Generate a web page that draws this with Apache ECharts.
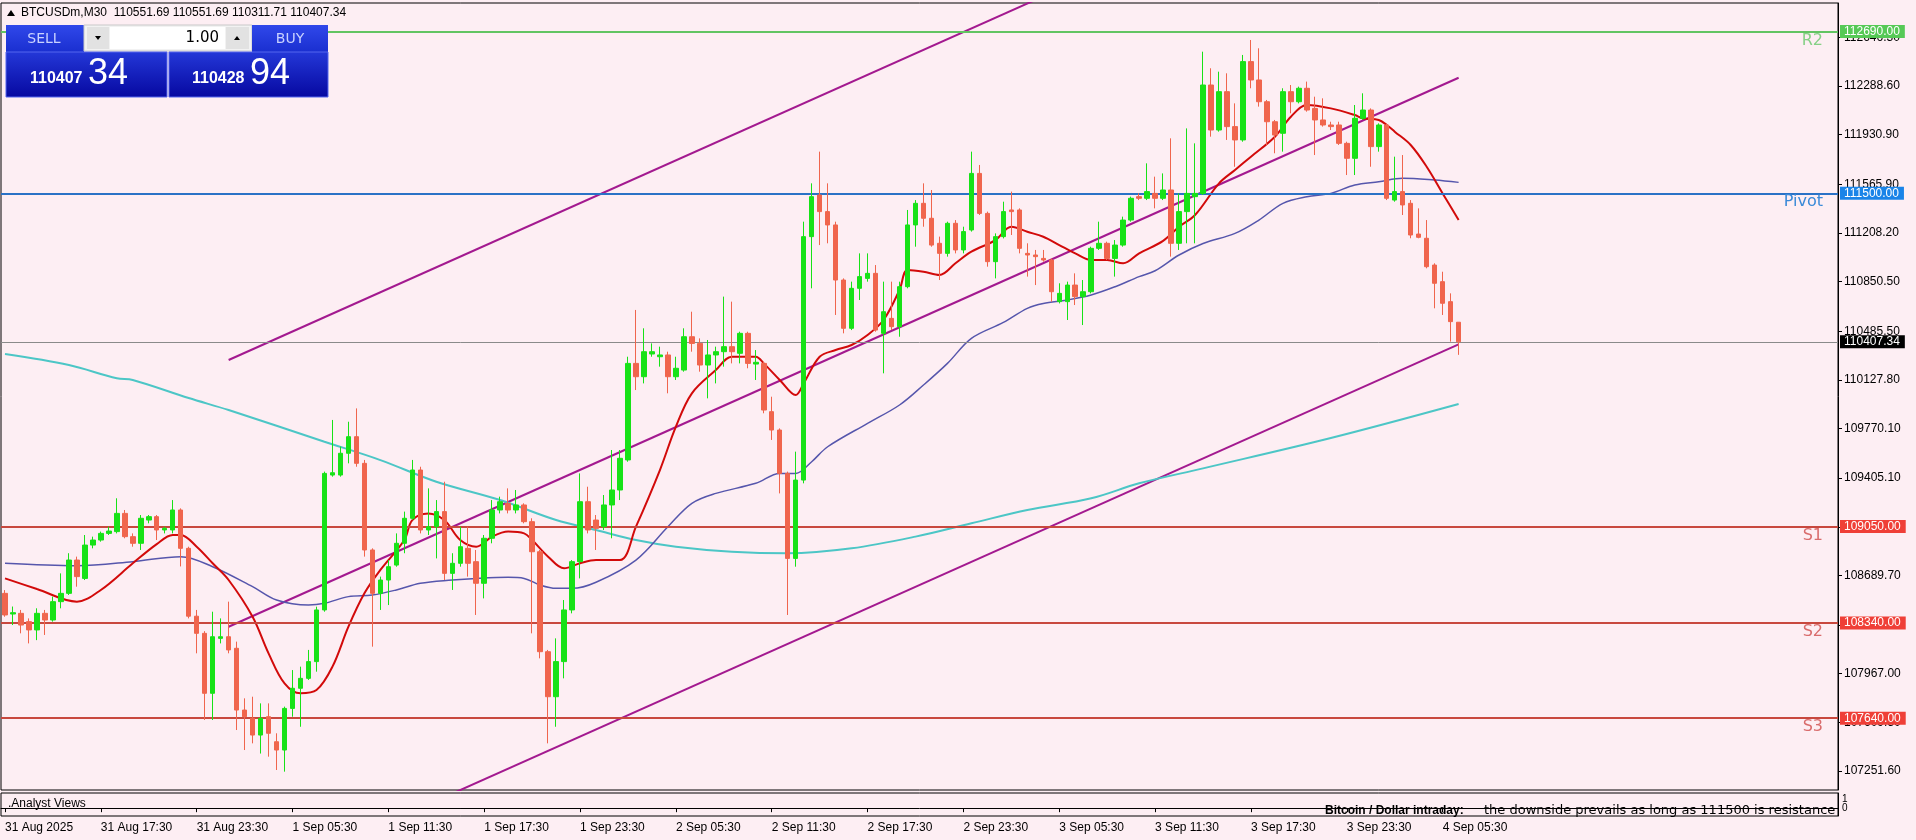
<!DOCTYPE html>
<html><head><meta charset="utf-8">
<script src="https://cdn.jsdelivr.net/npm/echarts@6/dist/echarts.min.js"></script>
<style>html,body{margin:0;padding:0;background:#fdeef3;}#c{width:1916px;height:840px;}</style>
</head><body><div id="c"></div>
<script>
// ---------- DATA ----------
const tickLabels = ['31 Aug 2025','31 Aug 17:30','31 Aug 23:30','1 Sep 05:30','1 Sep 11:30','1 Sep 17:30','1 Sep 23:30','2 Sep 05:30','2 Sep 11:30','2 Sep 17:30','2 Sep 23:30','3 Sep 05:30','3 Sep 11:30','3 Sep 17:30','3 Sep 23:30','4 Sep 05:30'];
const priceTicks = [112646.3,112288.6,111930.9,111565.9,111208.2,110850.5,110485.5,110127.8,109770.1,109405.1,109047.4,108689.7,108324.7,107967.0,107609.3,107251.6];

const opens = [108558,108406,108411,108350,108289,108411,108362,108497,108558,108803,108668,108913,108950,108999,109012,109146,108975,108926,109097,109122,
109024,109024,109171,108889,108390,108264,107823,108227,108239,108154,107700,107639,107516,107651,107467,107406,107712,107860,107933,108056,
108436,109428,109428,109588,109710,109514,108877,108558,108656,108766,108926,109110,109465,109024,109048,109159,108705,108779,108889,108791,
108632,108963,109171,109220,109171,109208,109085,108864,108129,107798,108056,108436,108791,109232,109097,109048,109208,109318,109539,110249,
110151,110318,110298,110311,110151,110200,110445,110396,110237,110311,110335,110372,110323,110470,110244,110249,109894,109759,109440,108815,
109391,111181,111487,111365,111267,110862,110507,110801,110874,110911,110470,110580,110519,110813,111267,111426,111316,111132,111058,111279,
111083,111230,111646,111352,110997,111181,111377,111377,111058,111046,111021,111009,110703,110703,110825,110740,110776,111095,111132,111021,
111119,111303,111475,111463,111499,111463,111524,111132,111365,111475,111499,112296,111965,112247,111990,111892,112468,112333,112173,112026,
111941,112247,112173,112272,112124,112039,112002,112002,111867,111757,112051,112112,111843,112002,111450,111512,111426,111200,111169,110972,
110850,110703,110551.69];
const highs = [108582,108461,108436,108374,108448,108436,108534,108705,108853,108828,108987,108975,109012,109048,109257,109171,108999,109134,109134,109134,
109048,109244,109183,108901,108436,108280,108423,108374,108497,108203,107786,107798,107749,107749,107529,107725,107994,108019,108142,108460,
109453,109833,109637,109820,109918,109539,108889,108681,108803,108999,109159,109539,109489,109330,109244,109379,108853,109048,109048,108877,
108987,109244,109269,109330,109318,109220,109110,108877,108142,108227,108509,108803,109440,109342,109134,109281,109612,109612,110298,110642,
110507,110396,110372,110335,110298,110507,110629,110433,110421,110372,110740,110703,110482,110482,110347,110262,110004,109771,109453,109600,
111291,111573,111806,111573,111291,110874,110850,111058,111058,110972,110850,110850,110850,111377,111450,111573,111524,111181,111291,111303,
111254,111806,111708,111365,111205,111438,111512,111389,111132,111083,111083,111021,110838,110850,110911,110862,111107,111291,111144,111156,
111328,111475,111499,111720,111622,111646,111904,111499,111977,111867,112541,112419,112394,112382,112161,112517,112627,112566,112186,112039,
112272,112296,112284,112321,112210,112198,112026,112026,111879,112149,112235,112124,112014,112014,111769,111781,111450,111389,111303,110985,
110923,110764,110551.69];
const lows = [108386,108325,108264,108190,108214,108252,108350,108448,108546,108607,108656,108889,108938,108987,108999,108963,108901,108877,109073,108950,
108999,108999,108756,108374,108117,107627,107627,108190,108117,107553,107406,107455,107380,107357,107259,107247,107651,107577,107921,107982,
108423,109416,109416,109514,109489,108828,108166,108436,108472,108754,108853,109097,108999,108987,108815,108656,108583,108754,108681,108399,
108521,108926,109146,109146,109146,109073,108264,108080,107455,107577,107933,108411,108668,108999,108877,109024,108963,109244,109526,110053,
110102,110298,110225,110029,110127,110188,110335,110188,109992,110102,110225,110249,110249,110213,110127,109882,109686,109293,108399,108754,
109367,110801,111119,111132,110605,110470,110494,110715,110850,110482,110176,110494,110445,110801,111107,111254,111107,110862,111034,111058,
111058,111218,111340,110960,110874,111168,111193,111058,110887,110825,110997,110703,110690,110568,110678,110531,110764,111083,111009,110887,
111107,111291,111450,111450,111389,111450,111034,111083,111132,111132,111487,111916,111953,111892,111695,111879,112272,112137,111855,111794,
111806,112088,112161,112100,111781,111990,111965,111855,111634,111634,112039,111695,111806,111450,111438,111340,111169,111169,110948,110654,
110605,110409,110311.71];
const closes = [108399,108416,108325,108289,108411,108362,108497,108558,108803,108681,108913,108950,108999,109016,109146,108975,108926,109110,109122,109024,
109036,109171,108889,108390,108264,107823,108239,108239,108142,107700,107651,107516,107639,107529,107406,107712,107860,107933,108056,108436,
109440,109445,109588,109710,109514,108877,108558,108656,108754,108926,109110,109465,109024,109048,109159,108705,108779,108901,108779,108632,
108963,109171,109232,109171,109208,109085,108864,108129,107798,108056,108436,108791,109232,109024,109036,109208,109318,109551,110249,110151,
110335,110335,110311,110151,110213,110445,110396,110237,110311,110335,110372,110335,110470,110249,110257,109906,109759,109440,108815,109391,
111181,111475,111365,111267,110862,110507,110801,110887,110911,110494,110629,110519,110813,111267,111426,111316,111119,111058,111279,111083,
111218,111646,111352,110997,111181,111365,111365,111095,111046,111034,111009,110776,110764,110825,110740,110776,111095,111132,111021,111119,
111303,111463,111463,111512,111463,111524,111132,111365,111499,111499,112296,111965,112247,111990,111892,112468,112333,112173,112026,111928,
112247,112173,112272,112112,112039,112002,111990,111867,111757,112051,112112,111843,112002,111463,111512,111414,111193,111176,110960,110838,
110691,110556,110407.34];

// moving averages: [bar, price]
const maFast = [[0,108668],[4,108590],[9,108497],[12,108583],[16,108779],[19,108920],[21,108987],[22,108987],[24,108901],[26,108779],[28,108656],[31,108386],[33,108117],[35,107896],[37,107823],[39,107847],[41,108019],[43,108313],[45,108558],[47,108730],[50,108950],[51,109097],[53,109146],[55,109097],[57,108950],[59,108901],[61,108975],[63,109012],[65,108999],[66,108950],[68,108828],[70,108742],[72,108779],[74,108803],[77,108803],[79,109048],[82,109465],[84,109784],[86,110029],[89,110200],[91,110298],[94,110298],[95,110249],[97,110127],[99,110016],[100,110102],[102,110298],[104,110347],[106,110384],[108,110458],[110,110568],[112,110789],[113,110936],[115,110923],[117,110899],[119,110985],[121,111070],[124,111156],[126,111254],[128,111217],[130,111180],[132,111119],[134,111058],[136,111009],[138,111009],[140,110985],[142,111058],[145,111150],[147,111254],[149,111340],[152,111573],[154,111671],[156,111769],[159,111916],[161,112063],[163,112149],[166,112124],[169,112075],[170,112051],[172,112039],[173,112002],[174,111953],[176,111855],[178,111695],[180,111499],[182,111303]];
const maMid = [[0,108779],[9,108761],[16,108791],[22,108828],[26,108754],[31,108607],[34,108509],[38,108472],[40,108485],[43,108534],[46,108546],[49,108583],[52,108632],[56,108656],[59,108668],[63,108676],[65,108668],[67,108619],[69,108595],[71,108595],[74,108640],[79,108803],[83,109048],[86,109220],[89,109293],[94,109367],[97,109440],[99,109440],[101,109526],[103,109636],[108,109808],[112,109943],[115,110090],[118,110249],[121,110433],[125,110550],[128,110654],[130,110690],[133,110715],[136,110752],[139,110813],[142,110887],[144,110930],[147,111046],[150,111131],[154,111205],[157,111303],[160,111426],[163,111475],[166,111499],[169,111561],[172,111585],[175,111610],[179,111597],[182,111580]];
const maSlow = [[0,110318],[8,110237],[14,110139],[16,110127],[23,109994],[28,109906],[40,109673],[47,109538],[54,109379],[62,109244],[69,109097],[74,109024],[79,108950],[84,108901],[91,108864],[98,108852],[106,108889],[114,108975],[121,109073],[128,109171],[136,109257],[142,109367],[150,109477],[166,109700],[182,109950]];

// channel (start bar, end bar, prices)
const channelBars = [28, 182];
const channelUpper = [110273.8, 114310.8];
const channelMid = [108312.6, 112349.6];
const channelLower = [106351.4, 110388.4];

const levelR2 = 112690, levelPivot = 111500, levelS1 = 109050, levelS2 = 108340, levelS3 = 107640;
const lastPrice = 110407.34;
const titleText = 'BTCUSDm,M30  110551.69 110551.69 110311.71 110407.34';

// ---------- CHART ----------
const N = 230;
const cats = []; for (let i = 0; i < N; i++) cats.push(String(i));
const candle = opens.map((o, i) => [o, closes[i], lows[i], highs[i]]);
const tickShow = (idx) => idx % 12 === 0 && idx / 12 < tickLabels.length;
const FONT = 'Liberation Sans';
const G = echarts.graphic;

function lvlLine(v, lineColor, width, boxColor) {
  return {
    yAxis: v,
    lineStyle: { color: lineColor, width: width, type: 'solid' },
    label: { show: true, position: 'end', formatter: v.toFixed(2), backgroundColor: boxColor, color: '#fff',
      padding: [1, 5, 0, 4], distance: 2, fontSize: 12, fontFamily: FONT }
  };
}
function lvlName(v, name, nameColor) {
  return {
    yAxis: v,
    lineStyle: { color: 'rgba(0,0,0,0)', width: 1 },
    label: { show: true, position: 'insideEndBottom', formatter: name, color: nameColor, fontSize: 16,
      fontFamily: 'DejaVu Sans', distance: [15, 1] }
  };
}

const chLine = (vals) => ({
  type: 'line', xAxisIndex: 0, yAxisIndex: 0, data: [[channelBars[0], vals[0]], [channelBars[1], vals[1]]],
  symbol: 'none', lineStyle: { color: '#a3198f', width: 2 }, clip: true, silent: true, z: 3
});
const maLine = (d, color, w) => ({
  type: 'line', xAxisIndex: 0, yAxisIndex: 0, data: d, smooth: 0.35, symbol: 'none',
  lineStyle: { color: color, width: w }, silent: true, z: 4
});

const gradTop = new G.LinearGradient(0, 0, 0, 1, [{offset: 0, color: '#3048ea'}, {offset: 1, color: '#1a2fd0'}]);
const gradBot = new G.LinearGradient(0, 0, 0, 1, [{offset: 0, color: '#2438d8'}, {offset: 1, color: '#0608a0'}]);

const option = {
  backgroundColor: '#fdeef3',
  animation: false,
  textStyle: { fontFamily: FONT },
  grid: [
    { left: 1, top: 3, width: 1837, height: 787, show: true, borderColor: '#000', borderWidth: 1 },
    { left: 1, top: 793, width: 1837, height: 23, show: true, borderColor: '#000', borderWidth: 1 }
  ],
  xAxis: [
    { type: 'category', data: cats, gridIndex: 0, boundaryGap: true, axisLine: { show: false },
      axisTick: { show: false }, axisLabel: { show: false }, splitLine: { show: false } },
    { type: 'category', data: cats, gridIndex: 1, boundaryGap: true,
      axisLine: { show: true, lineStyle: { color: '#000', width: 1 } },
      axisTick: { show: true, alignWithLabel: true, interval: tickShow, length: 4, lineStyle: { color: '#000' } },
      axisLabel: { show: true, interval: tickShow, formatter: (v, i) => tickLabels[i / 12], align: 'left',
        margin: 6, fontSize: 12, color: '#000', fontFamily: FONT },
      splitLine: { show: false } }
  ],
  yAxis: [
    { type: 'value', gridIndex: 0, position: 'right', min: 107112, max: 112899, scale: true,
      axisLine: { show: true, lineStyle: { color: '#000' } },
      axisTick: { show: true, customValues: priceTicks, length: 4, lineStyle: { color: '#000' } },
      axisLabel: { show: true, customValues: priceTicks, formatter: (v) => v.toFixed(2), fontSize: 12,
        color: '#000', margin: 6, fontFamily: FONT },
      splitLine: { show: false } },
    { type: 'value', gridIndex: 1, position: 'right', min: -0.89, max: 1.72,
      axisLine: { show: true, lineStyle: { color: '#000' } },
      axisTick: { show: false }, axisLabel: { show: false }, splitLine: { show: false } }
  ],
  series: [
    chLine(channelUpper), chLine(channelMid), chLine(channelLower),
    maLine(maSlow, '#4cc6c6', 2),
    maLine(maMid, '#5656ac', 1.5),
    maLine(maFast, '#d20a0a', 2),
    {
      type: 'candlestick', xAxisIndex: 0, yAxisIndex: 0, data: candle, barWidth: 5, z: 5,
      itemStyle: { color: '#17e217', color0: '#f0654d', borderColor: '#17e217', borderColor0: '#f0654d', borderWidth: 1 },
      markLine: {
        symbol: ['none', 'none'], silent: true, animation: false,
        data: [
          lvlLine(levelR2, '#62c462', 2, '#56c956'),
          lvlLine(levelPivot, '#2a72c6', 2, '#1a84e8'),
          lvlLine(lastPrice, '#8a8a8a', 1, '#000000'),
          lvlLine(levelS1, '#c8483e', 2, '#ef3f37'),
          lvlLine(levelS2, '#c8483e', 2, '#ef3f37'),
          lvlLine(levelS3, '#c8483e', 2, '#ef3f37')
        ]
      }
    },
    {
      type: 'line', xAxisIndex: 0, yAxisIndex: 0, data: [], silent: true, z: 6,
      markLine: {
        symbol: ['none', 'none'], silent: true, animation: false,
        data: [
          lvlName(levelR2, 'R2', '#86d086'),
          lvlName(levelPivot, 'Pivot', '#3a8ad8'),
          lvlName(levelS1, 'S1', '#d96c6c'),
          lvlName(levelS2, 'S2', '#d96c6c'),
          lvlName(levelS3, 'S3', '#d96c6c')
        ]
      }
    }
  ],
  graphic: [
    { type: 'polygon', z: 100, shape: { points: [[7, 16], [11, 10], [15, 16]] }, style: { fill: '#000' } },
    { type: 'text', z: 100, x: 21, y: 13, style: { text: titleText, font: '12px "Liberation Sans"', fill: '#000', textVerticalAlign: 'middle' } },
    // one-click panel
    { type: 'rect', z: 100, shape: { x: 6, y: 25, width: 78, height: 27 }, style: { fill: gradTop } },
    { type: 'text', z: 101, x: 44, y: 39, style: { text: 'SELL', font: '14px "DejaVu Sans"', fill: '#c9d2ff', textAlign: 'center', textVerticalAlign: 'middle' } },
    { type: 'rect', z: 100, shape: { x: 84, y: 25, width: 168, height: 26 }, style: { fill: '#f2f2f2', stroke: '#c8c8c8', lineWidth: 1 } },
    { type: 'rect', z: 101, shape: { x: 87, y: 27, width: 22, height: 22 }, style: { fill: '#e2e2e2' } },
    { type: 'polygon', z: 102, shape: { points: [[95, 36], [101, 36], [98, 40]] }, style: { fill: '#000' } },
    { type: 'rect', z: 101, shape: { x: 110, y: 27, width: 115, height: 22 }, style: { fill: '#ffffff' } },
    { type: 'text', z: 102, x: 219, y: 38, style: { text: '1.00', font: '15px "DejaVu Sans"', fill: '#000', textAlign: 'right', textVerticalAlign: 'middle' } },
    { type: 'rect', z: 101, shape: { x: 226, y: 27, width: 23, height: 22 }, style: { fill: '#e2e2e2' } },
    { type: 'polygon', z: 102, shape: { points: [[234, 40], [240, 40], [237, 36]] }, style: { fill: '#000' } },
    { type: 'rect', z: 100, shape: { x: 252, y: 25, width: 76, height: 27 }, style: { fill: gradTop } },
    { type: 'text', z: 101, x: 290, y: 39, style: { text: 'BUY', font: '14px "DejaVu Sans"', fill: '#c9d2ff', textAlign: 'center', textVerticalAlign: 'middle' } },
    { type: 'rect', z: 100, shape: { x: 6, y: 52, width: 161, height: 45 }, style: { fill: gradBot, stroke: '#5566ee', lineWidth: 1 } },
    { type: 'rect', z: 100, shape: { x: 169, y: 52, width: 159, height: 45 }, style: { fill: gradBot, stroke: '#5566ee', lineWidth: 1 } },
    { type: 'text', z: 101, x: 30, y: 79, style: { text: '110407', font: 'bold 16px "Liberation Sans"', fill: '#fff', textVerticalAlign: 'middle' } },
    { type: 'text', z: 101, x: 88, y: 74, style: { text: '34', font: '36px "Liberation Sans"', fill: '#fff', textVerticalAlign: 'middle' } },
    { type: 'text', z: 101, x: 192, y: 79, style: { text: '110428', font: 'bold 16px "Liberation Sans"', fill: '#fff', textVerticalAlign: 'middle' } },
    { type: 'text', z: 101, x: 250, y: 74, style: { text: '94', font: '36px "Liberation Sans"', fill: '#fff', textVerticalAlign: 'middle' } },
    // indicator panel texts
    { type: 'text', z: 100, x: 8, y: 804, style: { text: '.Analyst Views', font: '12px "Liberation Sans"', fill: '#000', textVerticalAlign: 'middle' } },
    { type: 'text', z: 100, x: 1325, y: 811, style: { text: 'Bitcoin / Dollar intraday:', font: 'bold 12px "Liberation Sans"', fill: '#000', textVerticalAlign: 'middle' } },
    { type: 'text', z: 100, x: 1484, y: 811, style: { text: 'the downside prevails as long as 111500 is resistance', font: '13px "DejaVu Sans"', fill: '#000', textVerticalAlign: 'middle', width: 353, overflow: 'truncate', ellipsis: '' } },
    { type: 'text', z: 100, x: 1842, y: 799, style: { text: '1', font: '10px "Liberation Sans"', fill: '#000', textVerticalAlign: 'middle' } },
    { type: 'text', z: 100, x: 1842, y: 808, style: { text: '0', font: '10px "Liberation Sans"', fill: '#000', textVerticalAlign: 'middle' } }
  ]
};
const chart = echarts.init(document.getElementById('c'));
chart.setOption(option);
</script>
</body></html>
